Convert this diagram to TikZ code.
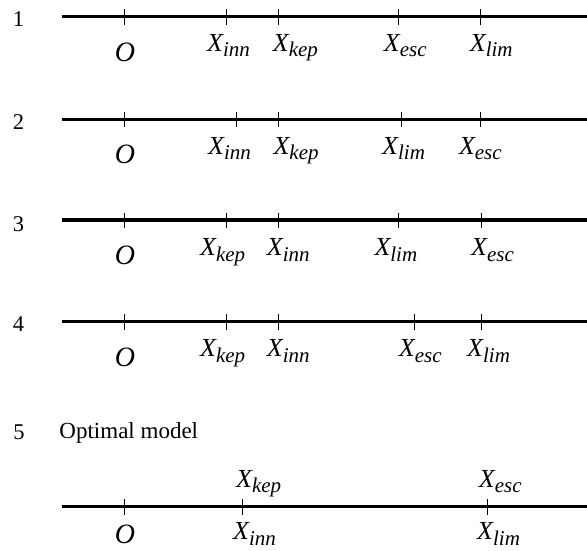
\documentclass[tikz,border=0pt]{standalone}
\usepackage{fontspec}
\setmainfont{Liberation Serif}
\newcommand{\xl}[1]{{\fontsize{26}{26}\selectfont\itshape X\raisebox{-5.5pt}{\fontsize{21}{21}\selectfont #1}}}
\begin{document}
\begin{tikzpicture}[x=1pt,y=-1pt,
  axisline/.style={line width=3.2pt},
  tickline/.style={line width=1pt},
  lab/.style={anchor=base west,inner sep=0pt},
  olab/.style={anchor=base,inner sep=0pt,font=\fontsize{28}{28}\selectfont\itshape},
  num/.style={anchor=base,inner sep=0pt,font=\fontsize{22.5}{22.5}\selectfont}]
\useasboundingbox (0,0) rectangle (587,550);
% row 1
\draw[axisline] (61.7,16.7) coordinate (a1) -- (590,16.7) coordinate (b1);
\foreach \x in {124,226.7,278,398,480.3} \draw[tickline] (\x,9.2) -- (\x,24.7);
\node[num] (n1) at (18.5,26.7) {1};
\node[olab] (o1) at (125,61) {O};
\node[lab] (i1) at (207,51) {\xl{inn}};
\node[lab] (k1) at (272.7,51) {\xl{kep}};
\node[lab] (e1) at (383.7,51) {\xl{esc}};
\node[lab] (l1) at (469.7,51) {\xl{lim}};
% row 2
\draw[axisline] (61.7,119.3) coordinate (a2) -- (590,119.3) coordinate (b2);
\foreach \x in {124,236.7,278,401.3,480.3} \draw[tickline] (\x,111.8) -- (\x,127.3);
\node[num] (n2) at (18.5,129.3) {2};
\node[olab] (o2) at (125,163.8) {O};
\node[lab] (i2) at (208,154) {\xl{inn}};
\node[lab] (k2) at (273.4,154) {\xl{kep}};
\node[lab] (l2) at (382,154) {\xl{lim}};
\node[lab] (e2) at (458.8,154) {\xl{esc}};
% row 3
\draw[axisline] (61.7,220) coordinate (a3) -- (590,220) coordinate (b3);
\foreach \x in {124,226.7,278.7,398.7,481} \draw[tickline] (\x,212.5) -- (\x,228);
\node[num] (n3) at (18.5,231) {3};
\node[olab] (o3) at (125,264.5) {O};
\node[lab] (k3) at (200,255.5) {\xl{kep}};
\node[lab] (i3) at (266.7,255.5) {\xl{inn}};
\node[lab] (l3) at (374.3,255.5) {\xl{lim}};
\node[lab] (e3) at (471,255.5) {\xl{esc}};
% row 4
\draw[axisline] (61.7,321.5) coordinate (a4) -- (590,321.5) coordinate (b4);
\foreach \x in {124,226.7,278.7,414,481} \draw[tickline] (\x,314) -- (\x,329.5);
\node[num] (n4) at (18.5,331.7) {4};
\node[olab] (o4) at (125,366) {O};
\node[lab] (k4) at (200,356.5) {\xl{kep}};
\node[lab] (i4) at (266.7,356.5) {\xl{inn}};
\node[lab] (e4) at (398.7,356.5) {\xl{esc}};
\node[lab] (l4) at (467,356.5) {\xl{lim}};
% row 5
\node[num] (n5) at (19,439) {5};
\node[anchor=base west,inner sep=0pt,font=\fontsize{23}{23}\selectfont] (t5) at (59.3,438) {Optimal model};
\draw[axisline] (61.7,506.7) coordinate (a5) -- (590,506.7) coordinate (b5);
\foreach \x in {124,242.3,487} \draw[tickline] (\x,499) -- (\x,515);
\node[olab] (o5) at (125,543.5) {O};
\node[lab] (k5) at (236,487.3) {\xl{kep}};
\node[lab] (e5) at (478.7,487.3) {\xl{esc}};
\node[lab] (i5) at (233,539.5) {\xl{inn}};
\node[lab] (l5) at (477,539.5) {\xl{lim}};
\end{tikzpicture}
\end{document}
